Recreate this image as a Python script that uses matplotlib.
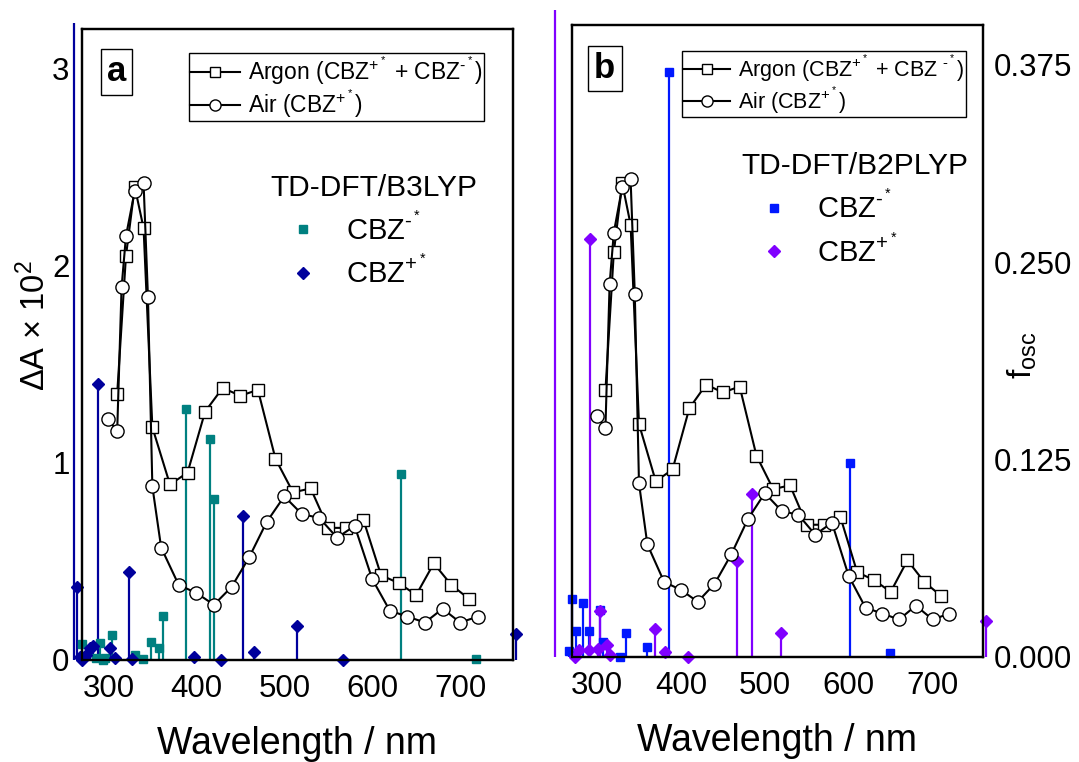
import matplotlib
matplotlib.use('Agg')
import matplotlib.pyplot as plt
from matplotlib.lines import Line2D
from matplotlib.ticker import FormatStrFormatter
import numpy as np

plt.rcParams['font.family'] = ['Liberation Sans', 'DejaVu Sans']
plt.rcParams['mathtext.fontset'] = 'custom'
plt.rcParams['mathtext.rm'] = 'Liberation Sans'
plt.rcParams['mathtext.it'] = 'Liberation Sans:italic'
plt.rcParams['mathtext.default'] = 'regular'

# experimental difference spectra, dA x 10^2
argon_wl = [310, 320, 330, 340, 350, 370, 390, 410, 430, 450, 470, 490, 510,
            530, 550, 570, 590, 610, 630, 650, 670, 690, 710]
argon_dA = [1.35, 2.05, 2.40, 2.19, 1.18, 0.89, 0.95, 1.26, 1.38, 1.34, 1.37,
            1.02, 0.85, 0.87, 0.67, 0.67, 0.71, 0.43, 0.39, 0.33, 0.49, 0.38, 0.31]
air_wl = [300, 310, 315, 320, 330, 340, 345, 350, 360, 380, 400, 420, 440, 460,
          480, 500, 520, 540, 560, 580, 600, 620, 640, 660, 680, 700, 720]
air_dA = [1.22, 1.16, 1.89, 2.15, 2.38, 2.42, 1.84, 0.88, 0.57, 0.38, 0.34, 0.28,
          0.37, 0.52, 0.70, 0.83, 0.74, 0.72, 0.62, 0.68, 0.41, 0.25, 0.22, 0.19,
          0.26, 0.19, 0.22]

# TD-DFT/B3LYP oscillator strengths
b3_anion_wl = [270, 286, 290, 294, 296, 304, 330, 339, 349, 358, 362, 388, 415,
               420, 633, 718]
b3_anion_f = [0.0101, 0.001, 0.0106, 0.0, 0.001, 0.0159, 0.0031, 0.0005, 0.0113,
              0.0074, 0.0279, 0.159, 0.140, 0.102, 0.118, 0.0006]
b3_cation_wl = [261, 264, 268, 270, 275, 279, 282, 288, 302, 307, 323, 327, 397,
                428, 453, 466, 514, 567, 763]
b3_cation_f = [0.404, 0.0465, 0.002, 0.0, 0.003, 0.0075, 0.009, 0.175, 0.0079,
               0.001, 0.0559, 0.0005, 0.0021, 0.0, 0.0911, 0.0049, 0.0218, 0.0,
               0.0163]

# TD-DFT/B2PLYP oscillator strengths
b2_anion_wl = [266, 270, 275, 283, 291, 303, 307, 327, 335, 360, 386, 602, 649]
b2_anion_f = [0.0036, 0.037, 0.0166, 0.034, 0.0166, 0.030, 0.0093, 0.0, 0.0153,
              0.0063, 0.3705, 0.1227, 0.0023]
b2_cation_wl = [250, 274, 278, 291, 292, 301, 303, 312, 315, 369, 381, 409, 467,
                485, 519, 764]
b2_cation_f = [0.4095, 0.0, 0.0044, 0.0044, 0.2649, 0.0049, 0.0293, 0.0076, 0.0013,
               0.0175, 0.003, 0.0, 0.0609, 0.1035, 0.0154, 0.023]

DA_MAX = 3.2
F_MAX = 0.4
FS_TICK = 22.5

PLUS = r'$^{+^*}$'
MINUS = r'$^{\text{-}^*}$'


def stems(ax, wl, f, color, marker, ms):
    wl = np.asarray(wl)
    f = np.asarray(f)
    ax.vlines(wl, 0, f, colors=color, lw=1.6, clip_on=False, zorder=2)
    keep = f <= F_MAX
    ax.plot(wl[keep], f[keep], ls='none', marker=marker, ms=ms, color=color,
            mec=color, clip_on=False, zorder=3)


def panel(ax, letter, method, anion, cation, c_an, c_cat, argon_label,
          leg_x, leg_fs, meth_xy, key_xy):
    ax2 = ax.twinx()
    ax.set_zorder(ax2.get_zorder() + 1)
    ax.patch.set_visible(False)

    stems(ax2, anion[0], anion[1], c_an, 's', 5.5)
    stems(ax2, cation[0], cation[1], c_cat, 'D', 6)

    ax.plot(argon_wl, argon_dA, color='black', lw=1.5, marker='s', ms=8,
            mfc='white', mec='black', mew=1.0, zorder=4)
    ax.plot(air_wl, air_dA, color='black', lw=1.5, marker='o', ms=9.5,
            mfc='white', mec='black', mew=1.0, zorder=4)

    ax.set_xlim(270, 760)
    ax.set_ylim(0, DA_MAX)
    ax2.set_ylim(0, F_MAX)
    ax.set_xticks([300, 400, 500, 600, 700])
    for a in (ax, ax2):
        a.tick_params(length=0, labelsize=FS_TICK)
        for s in a.spines.values():
            s.set_linewidth(1.6)
    ax.tick_params(axis='x', pad=10)
    ax.set_xlabel('Wavelength / nm', fontsize=27)
    ax.xaxis.set_label_coords(0.5, -0.105)

    ax.text(0.08, 0.932, letter, transform=ax.transAxes, fontsize=25,
            fontweight='bold', ha='center', va='center',
            bbox=dict(boxstyle='square,pad=0.18', fc='white', ec='black', lw=1.0))

    handles = [Line2D([], [], color='black', lw=1.5, marker='s', ms=7,
                      mfc='white', mec='black', mew=1.0),
               Line2D([], [], color='black', lw=1.5, marker='o', ms=8,
                      mfc='white', mec='black', mew=1.0)]
    leg = ax.legend(handles, [argon_label, 'Air (CBZ' + PLUS + ')'],
                    loc='upper left', bbox_to_anchor=leg_x, fontsize=leg_fs,
                    frameon=True, fancybox=False, framealpha=1, edgecolor='black',
                    borderpad=0.05, borderaxespad=0, handlelength=2.2,
                    handletextpad=0.35, labelspacing=0.0)
    leg.get_frame().set_linewidth(1.0)
    ax.add_artist(leg)

    ax.text(meth_xy[0], meth_xy[1], method, transform=ax.transAxes,
            fontsize=21.5, ha='left', va='center')
    keys = [Line2D([], [], ls='none', marker='s', ms=5.5, color=c_an),
            Line2D([], [], ls='none', marker='D', ms=6, color=c_cat)]
    ax.legend(keys, ['CBZ' + MINUS, 'CBZ' + PLUS], loc='center left',
              bbox_to_anchor=key_xy, fontsize=21, frameon=False, borderpad=0,
              borderaxespad=0, handlelength=1.0, handletextpad=0.95,
              labelspacing=0.35)
    return ax2


fig = plt.figure(figsize=(10.79, 7.62), dpi=100)
fig.patch.set_facecolor('white')
ax_a = fig.add_axes([0.076, 0.1339, 0.3994, 0.828])
ax_b = fig.add_axes([0.530, 0.1378, 0.381, 0.829])

a2 = panel(ax_a, 'a', 'TD-DFT/B3LYP', (b3_anion_wl, b3_anion_f),
           (b3_cation_wl, b3_cation_f), '#008080', '#00009C',
           'Argon (CBZ' + PLUS + ' + CBZ' + MINUS + ')', (0.248, 0.962), 16.5,
           (0.436, 0.748), (0.480, 0.649))
ax_a.set_yticks([0, 1, 2, 3])
ax_a.tick_params(axis='y', pad=9)
ax_a.set_ylabel(r'$\Delta$A $\times$ 10$^2$', fontsize=23.5)
ax_a.yaxis.set_label_coords(-0.07, 0.53)
a2.set_yticks([])

b2 = panel(ax_b, 'b', 'TD-DFT/B2PLYP', (b2_anion_wl, b2_anion_f),
           (b2_cation_wl, b2_cation_f), '#0018FF', '#8000FF',
           'Argon (CBZ' + PLUS + ' + CBZ ' + MINUS + ')', (0.268, 0.959), 15.5,
           (0.413, 0.777), (0.457, 0.677))
ax_b.set_yticks([])
b2.set_yticks([0, 0.125, 0.25, 0.375])
b2.yaxis.set_major_formatter(FormatStrFormatter('%.3f'))
b2.tick_params(axis='y', pad=8)
b2.set_ylabel(r'f$_{osc}$', fontsize=24)
b2.yaxis.set_label_coords(1.055, 0.478)

fig.savefig('out.png', dpi=100, facecolor='white')
